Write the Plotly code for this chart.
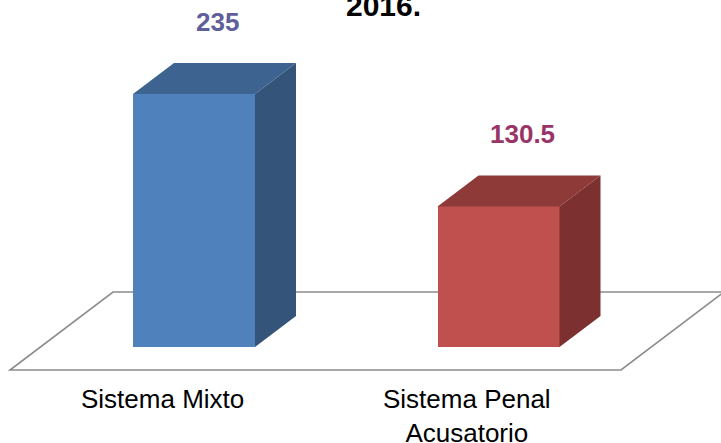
import plotly.graph_objects as go

# ---- data ----
categories = ["Sistema Mixto", "Sistema Penal<br>Acusatorio"]
values = [235, 130.5]
value_labels = ["235", "130.5"]
title_text = "2016."

# ---- styles / geometry ----
W, H = 721, 443
front_colors = ["#4F81BD", "#C0504D"]
top_colors = ["#3D6491", "#8E3A38"]
side_colors = ["#345479", "#7C302F"]
label_colors = ["#5F5F9B", "#9A3467"]
FONT = "Liberation Sans, Arial, sans-serif"

# axis scales (pixel mapping)
x0_px, x_step = 194.0, 304.5
y0_px, y_scale = 347.0, 1.077
x_range = [-x0_px / x_step, (W - x0_px) / x_step]
y_range = [-(H - y0_px) / y_scale, y0_px / y_scale]

bar_w = 122 / x_step
dx = 41 / x_step
dy = 31 / y_scale

fig = go.Figure()

# front faces
fig.add_trace(go.Bar(
    x=list(range(len(values))), y=values, width=bar_w,
    marker=dict(color=front_colors, line=dict(width=0)),
    hoverinfo="skip", showlegend=False,
))

# top and side faces
for i, v in enumerate(values):
    l, r = i - bar_w / 2, i + bar_w / 2
    fig.add_trace(go.Scatter(
        x=[l, r, r + dx, l + dx, l], y=[v, v, v + dy, v + dy, v],
        fill="toself", fillcolor=top_colors[i], mode="none",
        hoverinfo="skip", showlegend=False))
    fig.add_trace(go.Scatter(
        x=[r, r + dx, r + dx, r, r], y=[0, dy, v + dy, v, 0],
        fill="toself", fillcolor=side_colors[i], mode="none",
        hoverinfo="skip", showlegend=False))

# floor (drawn below bars)
fl_front = -(370 - y0_px) / y_scale
fl_back = (y0_px - 292) / y_scale
fx = [(10 - x0_px) / x_step, (621 - x0_px) / x_step,
      (724 - x0_px) / x_step, (113 - x0_px) / x_step]
fig.add_shape(
    type="path", layer="below",
    path=f"M {fx[0]},{fl_front} L {fx[1]},{fl_front} L {fx[2]},{fl_back} L {fx[3]},{fl_back} Z",
    line=dict(color="#8C8C8C", width=1.6), fillcolor="rgba(0,0,0,0)",
)

# value labels
for i, v in enumerate(values):
    fig.add_annotation(
        x=i + dx / 2, y=v, text=f"<b>{value_labels[i]}</b>", showarrow=False,
        xshift=3, yshift=72, yanchor="middle",
        font=dict(family=FONT, size=26, color=label_colors[i]))

# category labels
for i, c in enumerate(categories):
    fig.add_annotation(
        x=i, y=-(382 - y0_px) / y_scale, text=c, showarrow=False,
        xshift=-32, yanchor="top", align="center",
        font=dict(family=FONT, size=26, color="#000000"))

# title fragment
fig.add_annotation(
    xref="paper", yref="paper", x=383 / W, y=1 - 24 / H,
    text=f"<b>{title_text}</b>", showarrow=False, yanchor="bottom",
    font=dict(family=FONT, size=30, color="#000000"))

fig.update_layout(
    width=W, height=H, margin=dict(l=0, r=0, t=0, b=0),
    paper_bgcolor="white", plot_bgcolor="white",
    xaxis=dict(range=x_range, visible=False, fixedrange=True),
    yaxis=dict(range=y_range, visible=False, fixedrange=True),
    bargap=0, showlegend=False,
)

fig.write_html(
    "out.html",
    config={"displayModeBar": False},
    post_script="document.body.style.margin='0';document.body.style.overflow='hidden';",
)
